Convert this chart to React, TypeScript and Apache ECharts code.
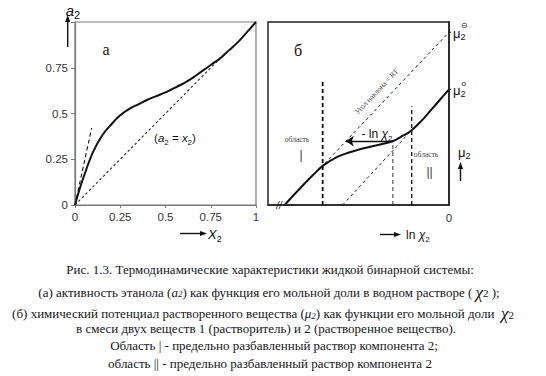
import React, { useEffect, useRef } from 'react';
import * as echarts from 'echarts';

// ---------- Panel (a): activity of ethanol vs its mole fraction ----------
const moleFraction = [0, 0.02, 0.05, 0.1, 0.15, 0.2, 0.25, 0.3, 0.35, 0.4, 0.45, 0.5, 0.55, 0.6, 0.65, 0.7, 0.75, 0.8, 0.85, 0.9, 0.95, 1];
const activity = [0, 0.07, 0.16, 0.29, 0.38, 0.44, 0.49, 0.525, 0.55, 0.575, 0.595, 0.615, 0.64, 0.665, 0.695, 0.73, 0.765, 0.8, 0.845, 0.89, 0.945, 1];
const henryTangentX = [0, 0.092];
const henryTangentY = [0, 0.42];
const idealX = [0, 0.83];
const idealY = [0, 0.83];
const leftTickLabels = ['0', '0.25', '0.5', '0.75', '1'];

// ---------- Panel (б): chemical potential vs ln x2 ----------
const lnX2 = [-4.54, -4.12, -3.75, -3.48, -3.1, -2.74, -2.46, -2.18, -1.58, -1.26, -1.03, -0.74, -0.5, -0.25, 0];
const mu2 = [0, 0.9, 1.65, 2.15, 2.62, 2.88, 3.05, 3.18, 3.47, 3.8, 4.09, 4.64, 5.18, 5.75, 6.32];
const muStandard = 9.44; // μ2⊖ at ln x2 = 0
const muPure = 6.32; // μ2° at ln x2 = 0
const regionIX = -3.49;
const regionITop = 6.86;
const regionIIX = -1.03;
const regionIITop = 5.4;
const dropX = -1.55;
const dropMu = 3.49;
const upperSlopeX = [-3.43, 0];
const upperSlopeY = [2.27, muStandard];
const lowerSlopeX = [-2.94, regionIIX];
const lowerSlopeY = [0, 4.09];
const arrowStartX = -2.85;

const SANS = 'Liberation Sans, Arial, sans-serif';
const SERIF = 'Liberation Serif, Times New Roman, serif';
const INK = '#111';

const pairs = (xs: number[], ys: number[]) => xs.map((x, i) => [x, ys[i]]);

function arrow(x1: number, y1: number, x2: number, y2: number, color = INK) {
  const ang = Math.atan2(y2 - y1, x2 - x1);
  const L = 7, W = 2.6;
  const bx = x2 - L * Math.cos(ang), by = y2 - L * Math.sin(ang);
  const px = -Math.sin(ang) * W, py = Math.cos(ang) * W;
  return [
    { type: 'line', shape: { x1, y1, x2: bx, y2: by }, style: { stroke: color, lineWidth: 1.4 } },
    { type: 'polygon', shape: { points: [[x2, y2], [bx + px, by + py], [bx - px, by - py]] }, style: { fill: color } },
  ];
}

function txt(x: number, y: number, text: string, o: any = {}) {
  const { rotation, ...rest } = o;
  const style: any = {
    legacy: false,
    text,
    fontFamily: SANS,
    fontSize: 12,
    fill: INK,
    align: 'center',
    verticalAlign: 'middle',
    ...rest,
  };
  return { type: 'text', x, y, rotation: rotation || 0, style };
}

const subRich = (size: number, family: string) => ({
  i: { fontStyle: 'italic', fontSize: size, fontFamily: family, lineHeight: size + 5 },
  s: { fontSize: Math.round(size * 0.7), fontFamily: family, lineHeight: Math.round(size * 0.7), verticalAlign: 'bottom' },
});

export default function App() {
  const ref = useRef<HTMLDivElement>(null);
  useEffect(() => {
    if (!ref.current) return;
    const chart = echarts.init(ref.current, undefined, { renderer: 'svg' });
    const captionRich = {
      i: { fontStyle: 'italic', fontSize: 13, fontFamily: SERIF, lineHeight: 13 },
      s: { fontStyle: 'italic', fontSize: 9, fontFamily: SERIF, lineHeight: 6, verticalAlign: 'bottom' },
      chi: { fontStyle: 'italic', fontSize: 17, fontFamily: SERIF, lineHeight: 13 },
      d: { fontSize: 11, fontFamily: SERIF, lineHeight: 9, verticalAlign: 'bottom' },
    };
    const cap = (x: number, y: number, text: string) =>
      txt(x, y, text, { fontFamily: SERIF, fontSize: 13, lineHeight: 13, fill: '#151515', rich: captionRich });

    const option: any = {
      animation: false,
      backgroundColor: '#ffffff',
      grid: [
        { left: 75, top: 22, width: 181, height: 183, show: true, borderColor: '#7a7a7a', borderWidth: 1.2, backgroundColor: 'transparent' },
        { left: 268, top: 22, width: 181, height: 183, show: true, borderColor: '#222', borderWidth: 1.5, backgroundColor: 'transparent' },
      ],
      xAxis: [
        {
          type: 'value', gridIndex: 0, min: 0, max: 1, interval: 0.25,
          axisLine: { show: true, lineStyle: { color: '#7a7a7a', width: 1.2 } },
          axisTick: { show: true, length: 3, lineStyle: { color: '#7a7a7a' } },
          axisLabel: { formatter: (v: number) => leftTickLabels[Math.round(v * 4)], fontFamily: SANS, fontSize: 11.5, color: '#333', margin: 6 },
          splitLine: { show: false },
        },
        {
          type: 'value', gridIndex: 1, min: -5, max: 0, interval: 5,
          axisLine: { show: true, lineStyle: { color: '#222', width: 1.5 } },
          axisTick: { show: false },
          axisLabel: { formatter: (v: number) => (v === 0 ? '0' : ''), fontFamily: SANS, fontSize: 11.5, color: '#333', margin: 7 },
          splitLine: { show: false },
        },
      ],
      yAxis: [
        {
          type: 'value', gridIndex: 0, min: 0, max: 1, interval: 0.25,
          axisLine: { show: true, lineStyle: { color: '#7a7a7a', width: 1.2 } },
          axisTick: { show: true, length: 4, lineStyle: { color: '#7a7a7a' } },
          axisLabel: { formatter: (v: number) => (v === 1 ? '' : leftTickLabels[Math.round(v * 4)]), fontFamily: SANS, fontSize: 11.5, color: '#333', margin: 7 },
          splitLine: { show: false },
        },
        {
          type: 'value', gridIndex: 1, min: 0, max: 10,
          axisLine: { show: true, lineStyle: { color: '#222', width: 1.5 } },
          axisTick: { show: false },
          axisLabel: { show: false },
          splitLine: { show: false },
        },
      ],
      series: [
        {
          type: 'line', xAxisIndex: 0, yAxisIndex: 0, data: pairs(moleFraction, activity),
          smooth: 0.4, showSymbol: false, lineStyle: { color: INK, width: 2 },
        },
        {
          type: 'line', xAxisIndex: 0, yAxisIndex: 0, data: pairs(henryTangentX, henryTangentY),
          showSymbol: false, lineStyle: { color: INK, width: 1.1, type: [4, 3] },
        },
        {
          type: 'line', xAxisIndex: 0, yAxisIndex: 0, data: pairs(idealX, idealY),
          showSymbol: false, lineStyle: { color: '#222', width: 1.1, type: [2.5, 2.5] },
        },
        {
          type: 'line', xAxisIndex: 1, yAxisIndex: 1, data: pairs(lnX2, mu2),
          smooth: 0.4, showSymbol: false, lineStyle: { color: INK, width: 2 },
          markLine: {
            silent: true, symbol: ['arrow', 'none'], symbolSize: 8,
            lineStyle: { color: INK, width: 1.3, type: 'solid' }, label: { show: false },
            data: [[{ coord: [arrowStartX, dropMu] }, { coord: [dropX, dropMu] }]],
          },
        },
        {
          type: 'line', xAxisIndex: 1, yAxisIndex: 1, data: [[regionIX, 0], [regionIX, regionITop]],
          showSymbol: false, lineStyle: { color: INK, width: 1.8, type: [4, 3] },
        },
        {
          type: 'line', xAxisIndex: 1, yAxisIndex: 1, data: [[regionIIX, 0], [regionIIX, regionIITop]],
          showSymbol: false, lineStyle: { color: INK, width: 1.3, type: [4, 3] },
        },
        {
          type: 'line', xAxisIndex: 1, yAxisIndex: 1, data: [[dropX, 0], [dropX, dropMu]],
          showSymbol: false, lineStyle: { color: '#333', width: 1, type: [4, 3] },
        },
        {
          type: 'line', xAxisIndex: 1, yAxisIndex: 1, data: pairs(upperSlopeX, upperSlopeY),
          showSymbol: false, lineStyle: { color: '#222', width: 1, type: [3, 3] },
        },
        {
          type: 'line', xAxisIndex: 1, yAxisIndex: 1, data: pairs(lowerSlopeX, lowerSlopeY),
          showSymbol: false, lineStyle: { color: '#222', width: 1, type: [3, 3] },
        },
        {
          type: 'line', xAxisIndex: 1, yAxisIndex: 1, clip: false, data: [[0, muStandard], [0.12, muStandard]],
          showSymbol: false, lineStyle: { color: INK, width: 1.2 },
        },
        {
          type: 'line', xAxisIndex: 1, yAxisIndex: 1, clip: false, data: [[0, muPure], [0.12, muPure]],
          showSymbol: false, lineStyle: { color: INK, width: 1.2 },
        },
      ],
      graphic: [
        // panel (a)
        txt(106, 49, 'а', { fontFamily: SERIF, fontSize: 16 }),
        txt(73, 10, '{i|a}{s|2}', { fontSize: 15, lineHeight: 20, rich: subRich(15, SANS) }),
        ...arrow(67.7, 47, 67.7, 15),
        txt(175, 138, '({i|a}{s|2} = {i|x}{s|2})', { fontSize: 11.5, lineHeight: 16, rich: subRich(11.5, SANS) }),
        ...arrow(180, 233.5, 207, 233.5),
        txt(208, 234, '{i|X}{s|2}', { align: 'left', fontSize: 13, lineHeight: 18, rich: subRich(13, SANS) }),
        // panel (б)
        txt(298, 50, 'б', { fontFamily: SERIF, fontSize: 16 }),
        txt(376.5, 91.5, 'Угол наклона = RT', { fontFamily: SERIF, fontSize: 7.5, fill: '#444', rotation: 0.813 }),
        txt(377, 134, '- ln {i|χ}{s|2}', { fontSize: 12, lineHeight: 17, rich: subRich(12, SANS) }),
        txt(297, 139, 'область', { fontFamily: SERIF, fontSize: 7.5, fill: '#444' }),
        txt(301, 155, '|', { fontSize: 12, fill: '#333' }),
        txt(426, 154.5, 'область', { fontFamily: SERIF, fontSize: 7.5, fill: '#444' }),
        txt(429.5, 172, '||', { fontSize: 12, fill: '#333' }),
        txt(453, 33, 'μ', { align: 'left', fontSize: 13 }),
        txt(460.5, 37, '2', { align: 'left', fontSize: 9 }),
        txt(461, 25, '⊖', { align: 'left', fontSize: 8 }),
        txt(453, 90, 'μ', { align: 'left', fontSize: 13 }),
        txt(460.5, 94, '2', { align: 'left', fontSize: 9 }),
        txt(461.5, 83, 'o', { align: 'left', fontSize: 8 }),
        txt(458, 152, 'μ', { align: 'left', fontSize: 13 }),
        txt(465.5, 156, '2', { align: 'left', fontSize: 9 }),
        ...arrow(460.5, 181, 460.5, 162),
        txt(279, 205, '//', { fontStyle: 'italic', fontSize: 10 }),
        ...arrow(380, 234.5, 401, 234.5),
        txt(406, 235, 'ln {i|χ}{s|2}', { align: 'left', fontSize: 12, lineHeight: 17, rich: subRich(12, SANS) }),
        // caption
        cap(270, 269, 'Рис. 1.3. Термодинамические характеристики жидкой бинарной системы:'),
        cap(269, 292, '(а) активность этанола ({i|a}{s|2}) как функция его мольной доли в водном растворе ( {chi|χ}{d|2} );'),
        cap(263, 313.5, '(б) химический потенциал растворенного вещества ({i|μ}{s|2}) как функции его мольной доли  {chi|χ}{d|2}'),
        cap(266, 328, 'в смеси двух веществ 1 (растворитель) и 2 (растворенное вещество).'),
        cap(274, 345.5, 'Область | - предельно разбавленный раствор компонента 2;'),
        cap(270, 363, 'область || - предельно разбавленный раствор компонента 2'),
      ],
    };
    chart.setOption(option);
    return () => chart.dispose();
  }, []);
  return <div ref={ref} style={{ position: 'fixed', left: 0, top: 0, width: 546, height: 376, background: '#fff' }} />;
}
